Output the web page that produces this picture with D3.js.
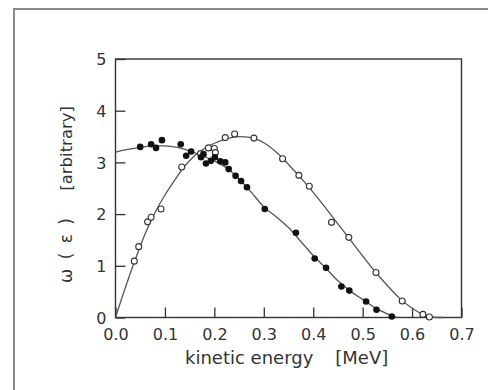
<!DOCTYPE html>
<html>
<head>
<meta charset="utf-8">
<script src="https://cdn.jsdelivr.net/npm/d3@7"></script>
<style>
  body { margin: 0; background: #fff; }
  svg { display: block; font-family: "DejaVu Sans", sans-serif; }
</style>
</head>
<body>
<svg id="chart" width="488" height="390"></svg>
<script>
// values (kinetic energy [MeV], omega [arbitrary])
var xTicks = [0, 0.1, 0.2, 0.3, 0.4, 0.5, 0.6, 0.7];
var yTicks = [0, 1, 2, 3, 4, 5];

var filledPoints = [
  [0.050, 3.30], [0.072, 3.35], [0.082, 3.28], [0.094, 3.43], [0.132, 3.35],
  [0.143, 3.13], [0.153, 3.21], [0.173, 3.10], [0.178, 3.16], [0.183, 2.98],
  [0.193, 3.03], [0.201, 3.10], [0.212, 3.02], [0.222, 3.00], [0.229, 2.87],
  [0.243, 2.74], [0.254, 2.64], [0.266, 2.52], [0.302, 2.10], [0.365, 1.64],
  [0.403, 1.14], [0.426, 0.96], [0.457, 0.60], [0.473, 0.52], [0.507, 0.31],
  [0.528, 0.15], [0.559, 0.02]
];
var openPoints = [
  [0.038, 1.09], [0.047, 1.37], [0.065, 1.85], [0.072, 1.94], [0.092, 2.10],
  [0.134, 2.91], [0.172, 3.17], [0.188, 3.28], [0.200, 3.27], [0.202, 3.19],
  [0.222, 3.48], [0.241, 3.55], [0.280, 3.47], [0.338, 3.07], [0.371, 2.75],
  [0.392, 2.54], [0.437, 1.84], [0.472, 1.55], [0.527, 0.87], [0.580, 0.32],
  [0.622, 0.06], [0.635, 0.01]
];
// fitted curves
var filledFit = [
  [0, 3.20], [0.025, 3.25], [0.05, 3.29], [0.075, 3.32], [0.1, 3.32], [0.125, 3.29],
  [0.15, 3.22], [0.175, 3.13], [0.2, 3.03], [0.225, 2.89], [0.25, 2.68], [0.275, 2.42],
  [0.3, 2.14], [0.325, 1.95], [0.35, 1.74], [0.375, 1.47], [0.4, 1.20], [0.425, 0.96],
  [0.45, 0.71], [0.475, 0.51], [0.5, 0.35], [0.525, 0.19], [0.55, 0.07], [0.57, 0]
];
var openFit = [
  [0, 0], [0.02, 0.58], [0.04, 1.12], [0.06, 1.62], [0.08, 2.03], [0.1, 2.37],
  [0.12, 2.66], [0.14, 2.93], [0.16, 3.13], [0.18, 3.27], [0.2, 3.37], [0.225, 3.46],
  [0.25, 3.50], [0.275, 3.48], [0.3, 3.38], [0.325, 3.20], [0.35, 2.96], [0.375, 2.70],
  [0.4, 2.42], [0.425, 2.12], [0.45, 1.81], [0.475, 1.50], [0.5, 1.19], [0.525, 0.89],
  [0.55, 0.62], [0.575, 0.37], [0.6, 0.18], [0.625, 0.05], [0.65, 0], [0.665, 0]
];

(function() {
  var svg = d3.select("#chart");
  var plotLeft = 115.5, plotRight = 461.5, plotTop = 59, plotBottom = 317.5;
  var ink = "#333";

  // outer frame of the figure
  svg.append("path")
    .attr("d", "M14,390 L14,9 L488,9")
    .attr("fill", "none")
    .attr("stroke", "#8a8a8a")
    .attr("stroke-width", 2);

  var x = d3.scaleLinear().domain([0, 0.7]).range([plotLeft, plotRight]);
  var y = d3.scaleLinear().domain([0, 5]).range([plotBottom, plotTop]);

  var xAxis = svg.append("g")
    .attr("transform", "translate(0," + plotBottom + ")")
    .call(d3.axisBottom(x).tickValues(xTicks).tickFormat(d3.format(".1f"))
      .tickSize(-10).tickPadding(11));
  var yAxis = svg.append("g")
    .attr("transform", "translate(" + plotLeft + ",0)")
    .call(d3.axisLeft(y).tickValues(yTicks).tickFormat(d3.format("d"))
      .tickSize(-10).tickPadding(9));

  [xAxis, yAxis].forEach(function(a) {
    a.select(".domain").remove();
    a.selectAll("line").attr("stroke", ink).attr("stroke-width", 1.3);
    a.selectAll("text")
      .attr("fill", ink)
      .style("font-size", "16px")
      .style("font-family", "DejaVu Sans, sans-serif");
  });
  yAxis.selectAll("text").attr("dy", "0.36em");

  // plot frame
  svg.append("rect")
    .attr("x", plotLeft).attr("y", plotTop)
    .attr("width", plotRight - plotLeft).attr("height", plotBottom - plotTop)
    .attr("fill", "none")
    .attr("stroke", ink)
    .attr("stroke-width", 1.4);

  var line = d3.line()
    .x(function(d) { return x(d[0]); })
    .y(function(d) { return y(d[1]); })
    .curve(d3.curveMonotoneX);

  [filledFit, openFit].forEach(function(fit) {
    svg.append("path")
      .datum(fit)
      .attr("d", line)
      .attr("fill", "none")
      .attr("stroke", "#555")
      .attr("stroke-width", 1.3);
  });

  svg.selectAll(".open").data(openPoints)
    .enter().append("circle")
    .classed("open", true)
    .attr("cx", function(d) { return x(d[0]); })
    .attr("cy", function(d) { return y(d[1]); })
    .attr("r", 3)
    .attr("fill", "#fff")
    .attr("stroke", "#333")
    .attr("stroke-width", 1.1);

  svg.selectAll(".filled").data(filledPoints)
    .enter().append("circle")
    .classed("filled", true)
    .attr("cx", function(d) { return x(d[0]); })
    .attr("cy", function(d) { return y(d[1]); })
    .attr("r", 3.3)
    .attr("fill", "#111");

  // axis titles
  var xTitle = svg.append("text")
    .attr("x", 185).attr("y", 364)
    .attr("fill", ink)
    .style("font-size", "18px");
  xTitle.append("tspan").text("kinetic energy");
  xTitle.append("tspan").attr("dx", 22).text("[MeV]");

  svg.append("text")
    .attr("transform", "translate(72,283) rotate(-90)")
    .attr("fill", ink)
    .style("font-size", "17px")
    .style("letter-spacing", "2px")
    .attr("text-anchor", "start")
    .text("ω ( ε )");
  svg.append("text")
    .attr("transform", "translate(72,106) rotate(-90)")
    .attr("fill", ink)
    .style("font-size", "16.5px")
    .attr("text-anchor", "end")
    .text("[arbitrary]");
})();
</script>
</body>
</html>
